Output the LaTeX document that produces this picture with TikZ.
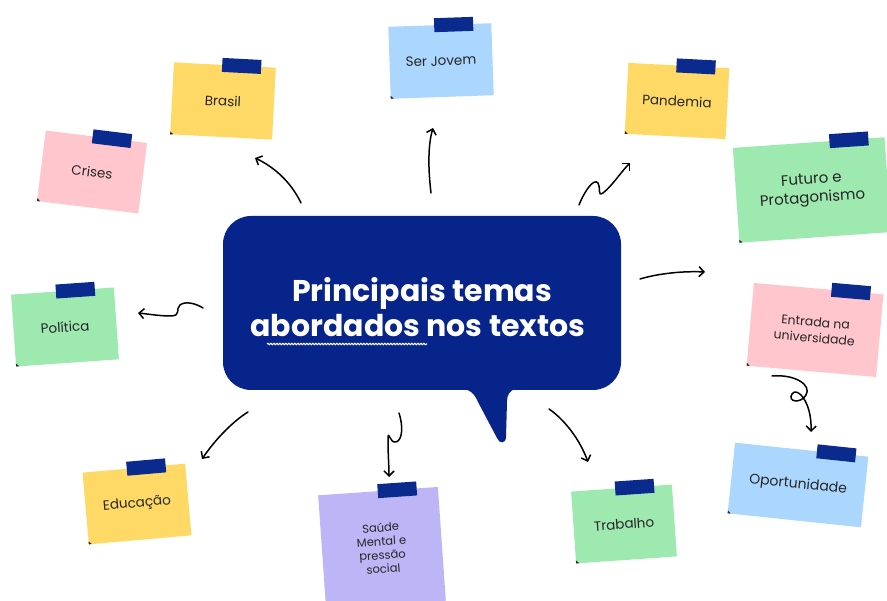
\documentclass[tikz,border=0pt]{standalone}
\usepackage{fontspec}
\setmainfont{Poppins}
\usetikzlibrary{arrows.meta,calc,decorations.pathmorphing}
\definecolor{navy}{HTML}{06248A}
\definecolor{tapec}{HTML}{0A2A8E}
\definecolor{cyellow}{HTML}{FFD966}
\definecolor{cpink}{HTML}{FFC6CD}
\definecolor{cblue}{HTML}{ABD6FD}
\definecolor{cgreen}{HTML}{9EE9AF}
\definecolor{cpurple}{HTML}{BDB5F5}
\definecolor{ink}{HTML}{262626}
\tikzset{
  note/.style={draw=none, inner sep=2pt, outer sep=0pt, align=center, text=ink,
    font=\fontsize{13.5}{16}\selectfont},
  tapebox/.style={fill=tapec, minimum width=39pt, minimum height=14pt, inner sep=0pt, outer sep=0pt},
  arr/.style={line width=1.5pt, line cap=round, draw=black,
    -{Straight Barb[length=5pt,width=10pt]}},
  titlef/.style={text=white, inner sep=0pt, font=\fontsize{30}{34}\selectfont\bfseries},
}
\newcommand{\notebox}[9]{%
  \node[note, #7, minimum width=#5pt, minimum height=#6pt, rotate=#4] (#1) at (#2,#3) {#9};
  \node[tapebox, rotate=#4] (#1tape) at ($(#1.north)!#8!(#1.north east)$) {};
  \fill[ink] (#1.south west) -- ($(#1.south west)!3pt!(#1.south east)$) -- ($(#1.south west)!3pt!(#1.north west)$) -- cycle;
}
\begin{document}
\begin{tikzpicture}[x=1pt,y=-1pt]
\useasboundingbox (0,0) rectangle (887,601);
\clip (0,0) rectangle (887,601);
\fill[white] (0,0) rectangle (887,601);

% central speech bubble
\node[fill=navy, rounded corners=28pt, minimum width=398pt, minimum height=174pt, inner sep=0pt] (bubble) at (422,303) {};
\fill[navy] (458,388) .. controls (470,389) and (474,393) .. (478,402) -- (497,438)
  .. controls (499,444) and (506,444) .. (506,437) -- (507,402)
  .. controls (507,395) and (509,390) .. (518,388) -- cycle;
\node[titlef, anchor=base] (t1) at (422,302) {Principais temas};
\node[titlef, anchor=base] (t2) at (418,337) {abordados nos textos};
\draw[white, line width=1.1pt, decorate, decoration={snake, amplitude=0.7pt, segment length=3pt}] (267,344) -- (427,344);

% sticky notes
\notebox{brasil}{223}{101}{-3}{102}{72}{fill=cyellow}{0.33}{Brasil}
\notebox{crises}{92}{172}{-7}{102}{71}{fill=cpink}{0.31}{Crises}
\notebox{jovem}{441}{61}{2}{103}{72}{fill=cblue}{0.27}{Ser Jovem}
\notebox{pandemia}{677}{101}{-3}{101}{71}{fill=cyellow}{0.34}{Pandemia}
\notebox{futuro}{812}{190}{4}{152}{95}{fill=cgreen, font=\fontsize{15}{18.5}\selectfont}{0.53}{Futuro e\\Protagonismo}
\notebox{politica}{65}{327}{4}{103}{72}{fill=cgreen}{0.25}{Política}
\notebox{entrada}{815}{330}{-5}{130}{83}{fill=cpink, font=\fontsize{12.5}{16}\selectfont}{0.5}{Entrada na\\universidade}
\notebox{oport}{798}{485}{-6}{134}{71}{fill=cblue, font=\fontsize{14}{16}\selectfont}{0.52}{Oportunidade}
\notebox{educacao}{137}{504}{5}{103}{72}{fill=cyellow}{0.24}{Educação}
\notebox{saude}{382}{548}{4}{120}{114}{fill=cpurple, font=\fontsize{11.5}{13.8}\selectfont}{0.32}{Saúde\\Mental e\\pressão\\social}
\notebox{trabalho}{624}{524}{4}{101}{72}{fill=cgreen}{0.26}{Trabalho}

% connector end points
\coordinate (s1) at (301,203); \coordinate (e1) at (255,158);
\coordinate (s2) at (431,193); \coordinate (e2) at (433,128);
\coordinate (s3) at (579,205); \coordinate (e3) at (630,163);
\coordinate (s4) at (640,279); \coordinate (e4) at (705,272);
\coordinate (s5) at (203,308); \coordinate (e5) at (138,313);
\coordinate (s6) at (772,376); \coordinate (e6) at (811,432);
\coordinate (s7) at (248,412); \coordinate (e7) at (202,459);
\coordinate (s8) at (399,413); \coordinate (e8) at (389,477);
\coordinate (s9) at (549,409); \coordinate (e9) at (588,462);

% connectors
\draw[arr] (s1) .. controls (290,180) and (272,166) .. (e1);
\draw[arr] (s2) .. controls (428,168) and (428,145) .. (e2);
\draw[arr] (s3) .. controls (585,190) and (594,178) .. (598,183)
  .. controls (601,187) and (597,197) .. (603,193)
  .. controls (612,186) and (621,172) .. (e3);
\draw[arr] (s4) .. controls (660,273) and (685,271) .. (e4);
\draw[arr] (s5) .. controls (195,303) and (185,301) .. (180,305)
  .. controls (175,309) and (182,316) .. (170,316)
  .. controls (160,316) and (148,314) .. (e5);
\draw[arr] (s6) .. controls (795,374) and (812,385) .. (806,395)
  .. controls (801,404) and (787,402) .. (792,394)
  .. controls (797,386) and (812,402) .. (e6);
\draw[arr] (s7) .. controls (232,422) and (215,440) .. (e7);
\draw[arr] (s8) .. controls (403,425) and (403,440) .. (396,442)
  .. controls (390,444) and (388,428) .. (388,440)
  .. controls (388,455) and (389,465) .. (e8);
\draw[arr] (s9) .. controls (565,420) and (580,440) .. (e9);
\end{tikzpicture}
\end{document}
